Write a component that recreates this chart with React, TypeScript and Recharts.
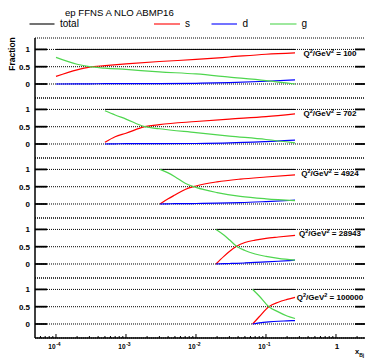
import React from 'react';
import { LineChart, Line, XAxis, YAxis, CartesianGrid } from 'recharts';

// ---- data ----
const q2Labels = ['100', '702', '4924', '28943', '100000'];

const xQ100 = [1e-4, 2e-4, 3e-4, 5e-4, 1e-3, 3e-3, 1e-2, 3e-2, 1e-1, 0.26];
const sQ100 = [0.22, 0.41, 0.49, 0.53, 0.58, 0.65, 0.71, 0.78, 0.86, 0.9];
const dQ100 = [0.0, 0.005, 0.005, 0.01, 0.01, 0.01, 0.02, 0.04, 0.08, 0.12];
const gQ100 = [0.77, 0.57, 0.5, 0.46, 0.42, 0.35, 0.29, 0.2, 0.1, 0.0];

const xQ702 = [5e-4, 7e-4, 1e-3, 1.86e-3, 3e-3, 1e-2, 3e-2, 1e-1, 0.26];
const sQ702 = [0.05, 0.21, 0.31, 0.5, 0.56, 0.65, 0.72, 0.79, 0.87];
const dQ702 = [0.0, 0.005, 0.01, 0.01, 0.01, 0.015, 0.03, 0.07, 0.11];
const gQ702 = [0.96, 0.84, 0.72, 0.5, 0.44, 0.33, 0.23, 0.13, 0.03];

const xQ4924 = [3.06e-3, 4e-3, 5e-3, 7e-3, 1e-2, 2e-2, 4.3e-2, 1e-1, 0.26];
const sQ4924 = [0.0, 0.15, 0.26, 0.42, 0.52, 0.64, 0.72, 0.78, 0.84];
const dQ4924 = [0.0, 0.005, 0.01, 0.01, 0.015, 0.025, 0.04, 0.07, 0.11];
const gQ4924 = [1.0, 0.9, 0.79, 0.6, 0.48, 0.33, 0.22, 0.15, 0.1];

const xQ28943 = [0.0193, 0.025, 0.03, 0.038, 0.05, 0.07, 0.1, 0.15, 0.26];
const sQ28943 = [0.0, 0.22, 0.36, 0.51, 0.62, 0.69, 0.74, 0.78, 0.83];
const dQ28943 = [0.0, 0.01, 0.015, 0.02, 0.03, 0.045, 0.06, 0.08, 0.11];
const gQ28943 = [1.0, 0.84, 0.7, 0.51, 0.39, 0.29, 0.22, 0.16, 0.11];

const xQ100000 = [0.0645, 0.08, 0.11, 0.15, 0.2, 0.26];
const sQ100000 = [0.0, 0.21, 0.5, 0.63, 0.71, 0.77];
const dQ100000 = [0.0, 0.03, 0.06, 0.08, 0.09, 0.1];
const gQ100000 = [1.0, 0.81, 0.5, 0.35, 0.23, 0.16];

const totalFraction = 1;

const yTicks = [0, 0.5, 1];
const decades = [1e-5, 1e-4, 1e-3, 1e-2, 1e-1, 1];
const mantissas = [1, 2, 3, 4, 5, 6, 7, 8, 9];
const xTickLabels: Record<string, string> = { '0.0001': '-4', '0.001': '-3', '0.01': '-2', '0.1': '-1', '1': '' };

const panels = [
  { q2: q2Labels[0], x: xQ100, s: sQ100, d: dQ100, g: gQ100 },
  { q2: q2Labels[1], x: xQ702, s: sQ702, d: dQ702, g: gQ702 },
  { q2: q2Labels[2], x: xQ4924, s: sQ4924, d: dQ4924, g: gQ4924 },
  { q2: q2Labels[3], x: xQ28943, s: sQ28943, d: dQ28943, g: gQ28943 },
  { q2: q2Labels[4], x: xQ100000, s: sQ100000, d: dQ100000, g: gQ100000 },
];

// ---- layout ----
const FONT = 'Liberation Sans, Arial, Helvetica, sans-serif';
const X_DOMAIN: [number, number] = [Math.pow(10, -4.3), Math.pow(10, 0.443)];
const Y_DOMAIN: [number, number] = [-0.405, 1.33];
const CHART_W = 367;
const PLOT_LEFT = 35;
const PLOT_RIGHT = 367;
const PANEL_TOP = 38;
const PANEL_H = 60;
const PAD = 2;
const BOTTOM_AXIS_H = 24;
const Y_TICK_MARGIN = 5;
const X_TICK_MARGIN = 2;
const qLabelDy = [18, 18, 17.5, 18, 22];

const COLORS = { total: '#000000', s: '#ff0000', d: '#0000ff', g: '#4fd64f' };

const xTicks = decades
  .flatMap((dec) => mantissas.map((m) => m * dec))
  .filter((v) => v >= X_DOMAIN[0] * 0.999 && v <= X_DOMAIN[1]);

const isMajor = (v: number) => {
  const l = Math.log10(v);
  return Math.abs(l - Math.round(l)) < 1e-6;
};

const YTick = (props: any) => {
  const { x, y, payload } = props;
  const ax = x + Y_TICK_MARGIN;
  return (
    <g>
      <line x1={ax} x2={ax + 12} y1={y} y2={y} stroke="#000" strokeWidth={1.8} />
      <line x1={PLOT_RIGHT - 12} x2={PLOT_RIGHT} y1={y} y2={y} stroke="#000" strokeWidth={1.8} />
      <text x={x} y={y} dy={2.9} textAnchor="end" fontSize={8} fontWeight="bold" fontFamily={FONT} fill="#000">
        {String(payload.value)}
      </text>
    </g>
  );
};

const makeXTick = (side: 'top' | 'bottom', showLabels: boolean) => (props: any) => {
  const { x, y, payload } = props;
  const v = payload.value as number;
  const major = isMajor(v);
  const axisY = side === 'bottom' ? y - X_TICK_MARGIN : y + X_TICK_MARGIN;
  const dir = side === 'bottom' ? -1 : 1;
  const len = major ? 4 : 2;
  const key = String(Math.round(Math.log10(v)) >= 0 ? 1 : Number(v.toPrecision(1)));
  const exp = xTickLabels[key];
  return (
    <g>
      <line x1={x} x2={x} y1={axisY} y2={axisY + dir * len} stroke="#000" strokeWidth={1} />
      {showLabels && side === 'bottom' && major && exp !== undefined && (
        exp === '' ? (
          <text x={x + 1} y={axisY + 11} textAnchor="middle" fontSize={8} fontWeight="bold" fontFamily={FONT} fill="#000">
            1
          </text>
        ) : (
          <text x={x - 1.5} y={axisY + 10.7} textAnchor="middle" fontWeight="bold" fontFamily={FONT} fill="#000">
            <tspan fontSize={6.5}>10</tspan>
            <tspan fontSize={5} dx={0.6} dy={-3}>{exp}</tspan>
          </text>
        )
      )}
    </g>
  );
};

function Panel({ idx }: { idx: number }) {
  const p = panels[idx];
  const last = idx === panels.length - 1;
  const data = p.x.map((x, i) => ({ x, s: p.s[i], d: p.d[i], g: p.g[i], total: totalFraction }));
  const height = PAD + PANEL_H + (last ? BOTTOM_AXIS_H : PAD);
  return (
    <div style={{ position: 'absolute', left: 0, top: PANEL_TOP + idx * PANEL_H - PAD }}>
      <LineChart
        width={CHART_W}
        height={height}
        data={data}
        margin={{ top: PAD, right: 0, bottom: last ? 0 : PAD, left: 0 }}
      >
        <CartesianGrid vertical={false} stroke="#000" strokeDasharray="1 1" strokeWidth={1} />
        <XAxis
          dataKey="x"
          type="number"
          scale="log"
          domain={X_DOMAIN}
          allowDataOverflow
          ticks={xTicks}
          interval={0}
          orientation="bottom"
          height={last ? BOTTOM_AXIS_H : 0}
          tickSize={0}
          tickMargin={X_TICK_MARGIN}
          tickLine={false}
          axisLine={{ stroke: '#000', strokeWidth: 1.6 }}
          tick={makeXTick('bottom', last)}
        />
        <XAxis
          xAxisId="top"
          dataKey="x"
          type="number"
          scale="log"
          domain={X_DOMAIN}
          allowDataOverflow
          ticks={xTicks}
          interval={0}
          orientation="top"
          height={0}
          tickSize={0}
          tickMargin={X_TICK_MARGIN}
          tickLine={false}
          axisLine={{ stroke: '#000', strokeWidth: 1.6 }}
          tick={makeXTick('top', false)}
        />
        <YAxis
          type="number"
          domain={Y_DOMAIN}
          allowDataOverflow
          ticks={yTicks}
          interval={0}
          width={PLOT_LEFT}
          tickSize={0}
          tickMargin={Y_TICK_MARGIN}
          tickLine={false}
          axisLine={{ stroke: '#000', strokeWidth: 1.5 }}
          tick={(props: any) => <YTick {...props} />}
        />
        <Line dataKey="total" type="monotone" stroke={COLORS.total} strokeWidth={1} dot={false} isAnimationActive={false} />
        <Line dataKey="s" type="monotone" stroke={COLORS.s} strokeWidth={1.2} dot={false} isAnimationActive={false} />
        <Line dataKey="d" type="monotone" stroke={COLORS.d} strokeWidth={1.2} dot={false} isAnimationActive={false} />
        <Line dataKey="g" type="monotone" stroke={COLORS.g} strokeWidth={1.2} dot={false} isAnimationActive={false} />
      </LineChart>
    </div>
  );
}

const legendItems = [
  { label: 'total', color: COLORS.total, x1: 29.5, x2: 54.5, tx: 60 },
  { label: 's', color: COLORS.s, x1: 154, x2: 180, tx: 185 },
  { label: 'd', color: COLORS.d, x1: 211.5, x2: 237, tx: 242.5 },
  { label: 'g', color: COLORS.g, x1: 270, x2: 296.5, tx: 301.5 },
];

export default function App() {
  return (
    <div style={{ position: 'absolute', left: 0, top: 0, width: 365, height: 359, overflow: 'hidden', background: '#fff' }}>
      {panels.map((_, i) => (
        <Panel key={i} idx={i} />
      ))}
      <svg
        width={365}
        height={359}
        style={{ position: 'absolute', left: 0, top: 0, pointerEvents: 'none' }}
        fontFamily={FONT}
      >
        <text x={65} y={15.5} fontSize={9.6} fill="#000">ep FFNS A NLO ABMP16</text>
        {legendItems.map((it) => (
          <g key={it.label}>
            <line x1={it.x1} x2={it.x2} y1={24} y2={24} stroke={it.color} strokeWidth={1.1} />
            <text x={it.tx} y={27} fontSize={10} fill="#000">{it.label}</text>
          </g>
        ))}
        <text
          x={15}
          y={54}
          fontSize={8.5}
          fontWeight="bold"
          textAnchor="middle"
          transform="rotate(-90 15 54)"
          fill="#000"
        >
          Fraction
        </text>
        {panels.map((p, i) => (
          <text
            key={p.q2}
            x={330}
            y={PANEL_TOP + i * PANEL_H + qLabelDy[i]}
            fontSize={8}
            fontWeight="bold"
            textAnchor="middle"
            fill="#000"
          >
            Q<tspan fontSize={5.5} dy={-3}>2</tspan>
            <tspan dy={3}>/GeV</tspan>
            <tspan fontSize={5.5} dy={-3}>2</tspan>
            <tspan dy={3}> = {p.q2}</tspan>
          </text>
        ))}
        <text x={355} y={354} fontSize={7.5} fontWeight="bold" fill="#000">
          x<tspan fontSize={5} dy={2.5}>Bj</tspan>
        </text>
      </svg>
    </div>
  );
}
